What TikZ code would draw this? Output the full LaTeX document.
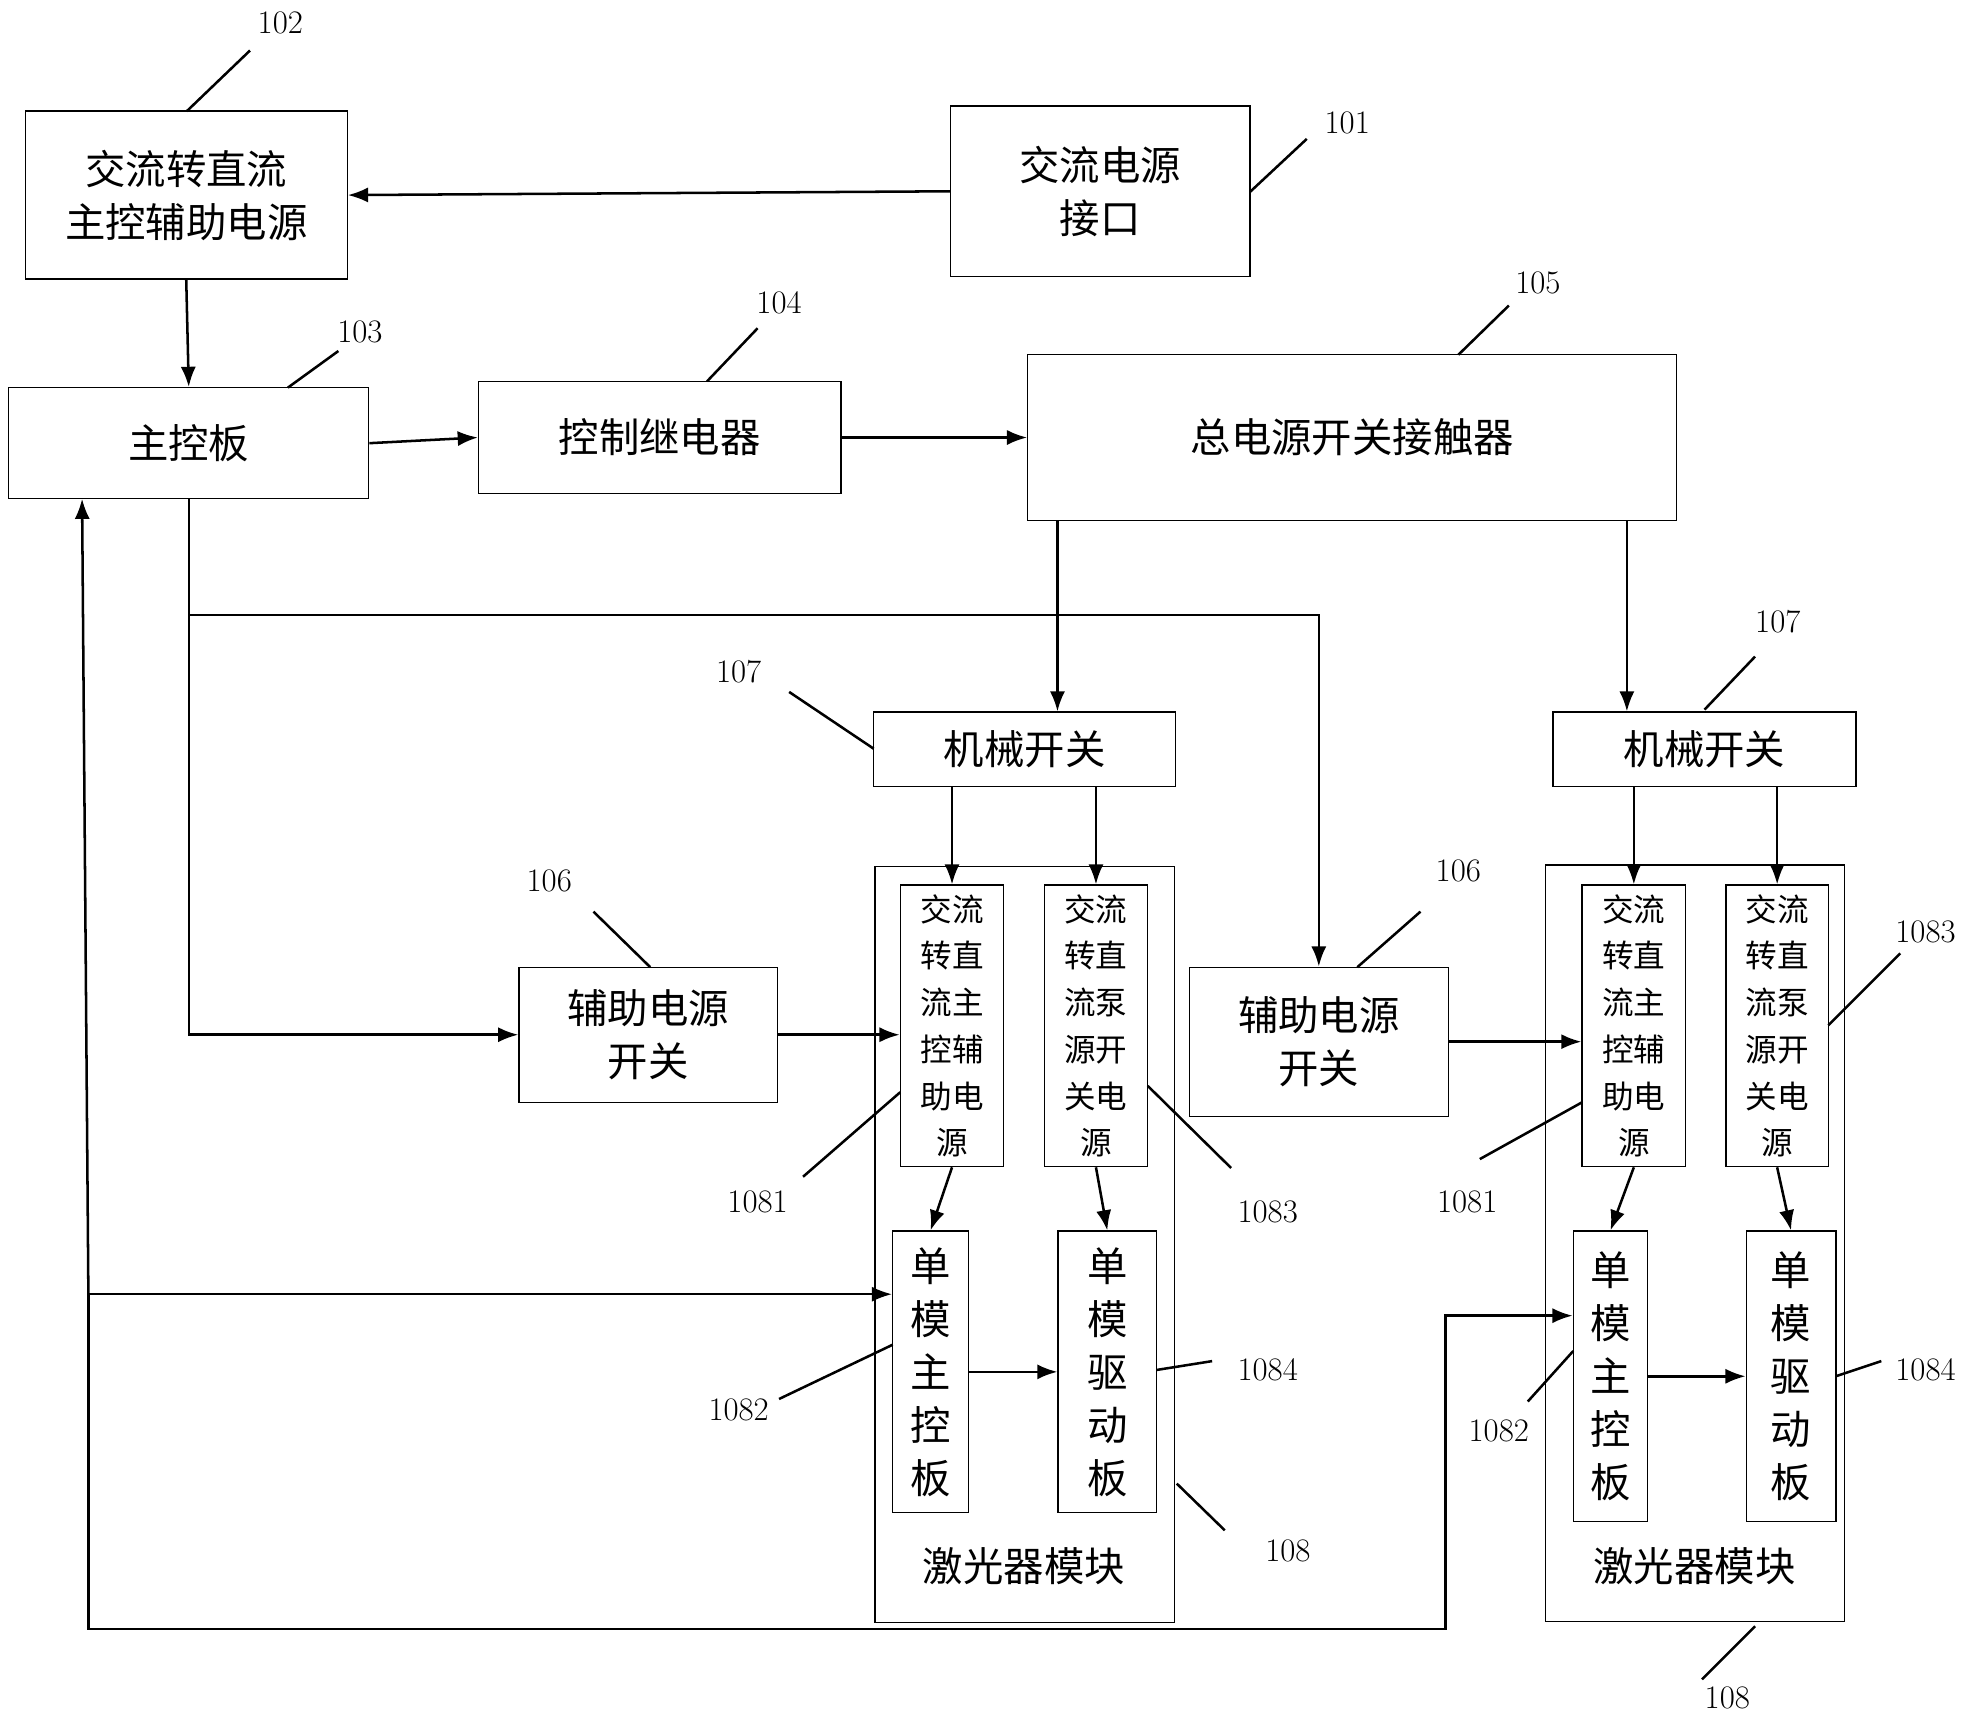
\documentclass[tikz,border=0pt]{standalone}
\usepackage{fontspec}
\newfontfamily\cjk{Noto Sans CJK SC}
\usetikzlibrary{arrows.meta,calc}

\tikzset{
  box/.style={draw,line width=1pt,align=center,inner sep=0pt,
    font=\cjk\fontsize{32}{42}\selectfont},
  sbox/.style={box,font=\cjk\fontsize{25}{37}\selectfont},
  arr/.style={line width=2pt,-{Latex[length=16pt,width=12pt]}},
  lead/.style={line width=2pt},
  num/.style={font=\fontsize{26}{26}\selectfont}
}

\begin{document}
\begin{tikzpicture}[x=1pt,y=-1pt]
  \useasboundingbox (0,0) rectangle (1565,1363);
  % main boxes
  \node[box,minimum width=255,minimum height=133] (n102) at (147.5,154.5) {交流转直流\\主控辅助电源};
  \node[box,minimum width=237,minimum height=135] (n101) at (871.5,151.5) {交流电源\\接口};
  \node[box,minimum width=285,minimum height=88] (n103) at (149.5,351) {主控板};
  \node[box,minimum width=287,minimum height=89] (n104) at (522.5,346.5) {控制继电器};
  \node[box,minimum width=514,minimum height=131] (n105) at (1071,346.5) {总电源开关接触器};
  \node[box,minimum width=239,minimum height=59] (n107a) at (811.5,593.5) {机械开关};
  \node[box,minimum width=240,minimum height=59] (n107b) at (1350,593.5) {机械开关};
  \node[box,minimum width=205,minimum height=107] (n106a) at (513.5,819.5) {辅助电源\\开关};
  \node[box,minimum width=205,minimum height=118] (n106b) at (1044.5,825) {辅助电源\\开关};
  % laser modules
  \node[box,minimum width=237,minimum height=599] (m108a) at (811.5,985.5) {};
  \node[box,minimum width=237,minimum height=599] (m108b) at (1342.5,984.5) {};
  \node[font=\cjk\fontsize{32}{40}\selectfont] at (811,1240) {激光器模块};
  \node[font=\cjk\fontsize{32}{40}\selectfont] at (1342,1240) {激光器模块};
  \node[sbox,minimum width=82,minimum height=223] (a1081) at (754,812.5) {交流\\转直\\流主\\控辅\\助电\\源};
  \node[sbox,minimum width=82,minimum height=223] (a1083) at (868,812.5) {交流\\转直\\流泵\\源开\\关电\\源};
  \node[box,minimum width=60,minimum height=223] (a1082) at (737,1086.5) {单\\模\\主\\控\\板};
  \node[box,minimum width=78,minimum height=223] (a1084) at (877,1086.5) {单\\模\\驱\\动\\板};
  \node[sbox,minimum width=82,minimum height=223] (b1081) at (1294,812.5) {交流\\转直\\流主\\控辅\\助电\\源};
  \node[sbox,minimum width=81,minimum height=223] (b1083) at (1407.5,812.5) {交流\\转直\\流泵\\源开\\关电\\源};
  \node[box,minimum width=59,minimum height=230] (b1082) at (1275.5,1090) {单\\模\\主\\控\\板};
  \node[box,minimum width=71,minimum height=230] (b1084) at (1418.5,1090) {单\\模\\驱\\动\\板};

  % labels and leaders
  \node[num] at (222,18) {102};   \draw[lead] (148,88) -- (198,40);
  \node[num] at (1067,97) {101};  \draw[lead] (990,152) -- (1035,110);
  \node[num] at (285,263) {103};  \draw[lead] (228,307) -- (268,278);
  \node[num] at (617,240) {104};  \draw[lead] (560,302) -- (600,260);
  \node[num] at (1218,224) {105}; \draw[lead] (1155,281) -- (1195,242);
  \node[num] at (585,532) {107};  \draw[lead] (625,548) -- (692,593);
  \node[num] at (1408,492) {107}; \draw[lead] (1350,562) -- (1390,520);
  \node[num] at (435,698) {106};  \draw[lead] (470,722) -- (515,766);
  \node[num] at (1155,690) {106}; \draw[lead] (1075,766) -- (1125,722);
  \node[num] at (1020,1228) {108}; \draw[lead] (932,1175) -- (970,1212);
  \node[num] at (1368,1345) {108}; \draw[lead] (1348,1330) -- (1390,1288);
  \node[num] at (600,952) {1081};  \draw[lead] (636,932) -- (713,865);
  \node[num] at (1004,960) {1083}; \draw[lead] (909,860) -- (975,925);
  \node[num] at (585,1117) {1082}; \draw[lead] (617,1108) -- (707,1065);
  \node[num] at (1004,1085) {1084}; \draw[lead] (916,1085) -- (960,1078);
  \node[num] at (1162,952) {1081}; \draw[lead] (1172,918) -- (1253,873);
  \node[num] at (1525,738) {1083}; \draw[lead] (1448,812) -- (1505,755);
  \node[num] at (1187,1133) {1082}; \draw[lead] (1210,1110) -- (1246,1070);
  \node[num] at (1525,1085) {1084}; \draw[lead] (1454,1090) -- (1490,1078);

  % connectors
  \draw[arr] (n101.west) -- (n102.east);
  \draw[arr] (n102.south) -- (n103.north);
  \draw[arr] (n103.east) -- (n104.west);
  \draw[arr] (n104.east) -- (n105.west);
  \draw[arr] ([xshift=24pt]n105.south west) -- ([xshift=24pt]n105.south west |- n107a.north);
  \draw[arr] ([xshift=-40pt]n105.south east) -- ([xshift=-40pt]n105.south east |- n107b.north);
  \draw[arr] (a1081.north |- n107a.south) -- (a1081.north);
  \draw[arr] (a1083.north |- n107a.south) -- (a1083.north);
  \draw[arr] (b1081.north |- n107b.south) -- (b1081.north);
  \draw[arr] (b1083.north |- n107b.south) -- (b1083.north);
  \draw[arr] (a1081.south) -- (a1082.north);
  \draw[arr] (a1083.south) -- (a1084.north);
  \draw[arr] (b1081.south) -- (b1082.north);
  \draw[arr] (b1083.south) -- (b1084.north);
  \draw[arr] (a1082.east) -- (a1084.west);
  \draw[arr] (b1082.east) -- (b1084.west);
  \draw[arr] (n106a.east) -- (n106a.east -| a1081.west);
  \draw[arr] (n106b.east) -- (n106b.east -| b1081.west);
  \draw[arr] (n103.south) -- (n103.south |- n106a.west) -- (n106a.west);
  \draw[arr] (n103.south |- 0,487) -| (n106b.north);
  % feedback bus
  \coordinate (fb) at (70,1025);
  \draw[arr] (fb) -- (fb -| a1082.west);
  \draw[arr] (fb) -- (65,395);
  \draw[arr] (fb) -- (70,1290) -- (1145,1290) -- (1145,1042) -- (1145,1042 -| b1082.west);
\end{tikzpicture}
\end{document}
